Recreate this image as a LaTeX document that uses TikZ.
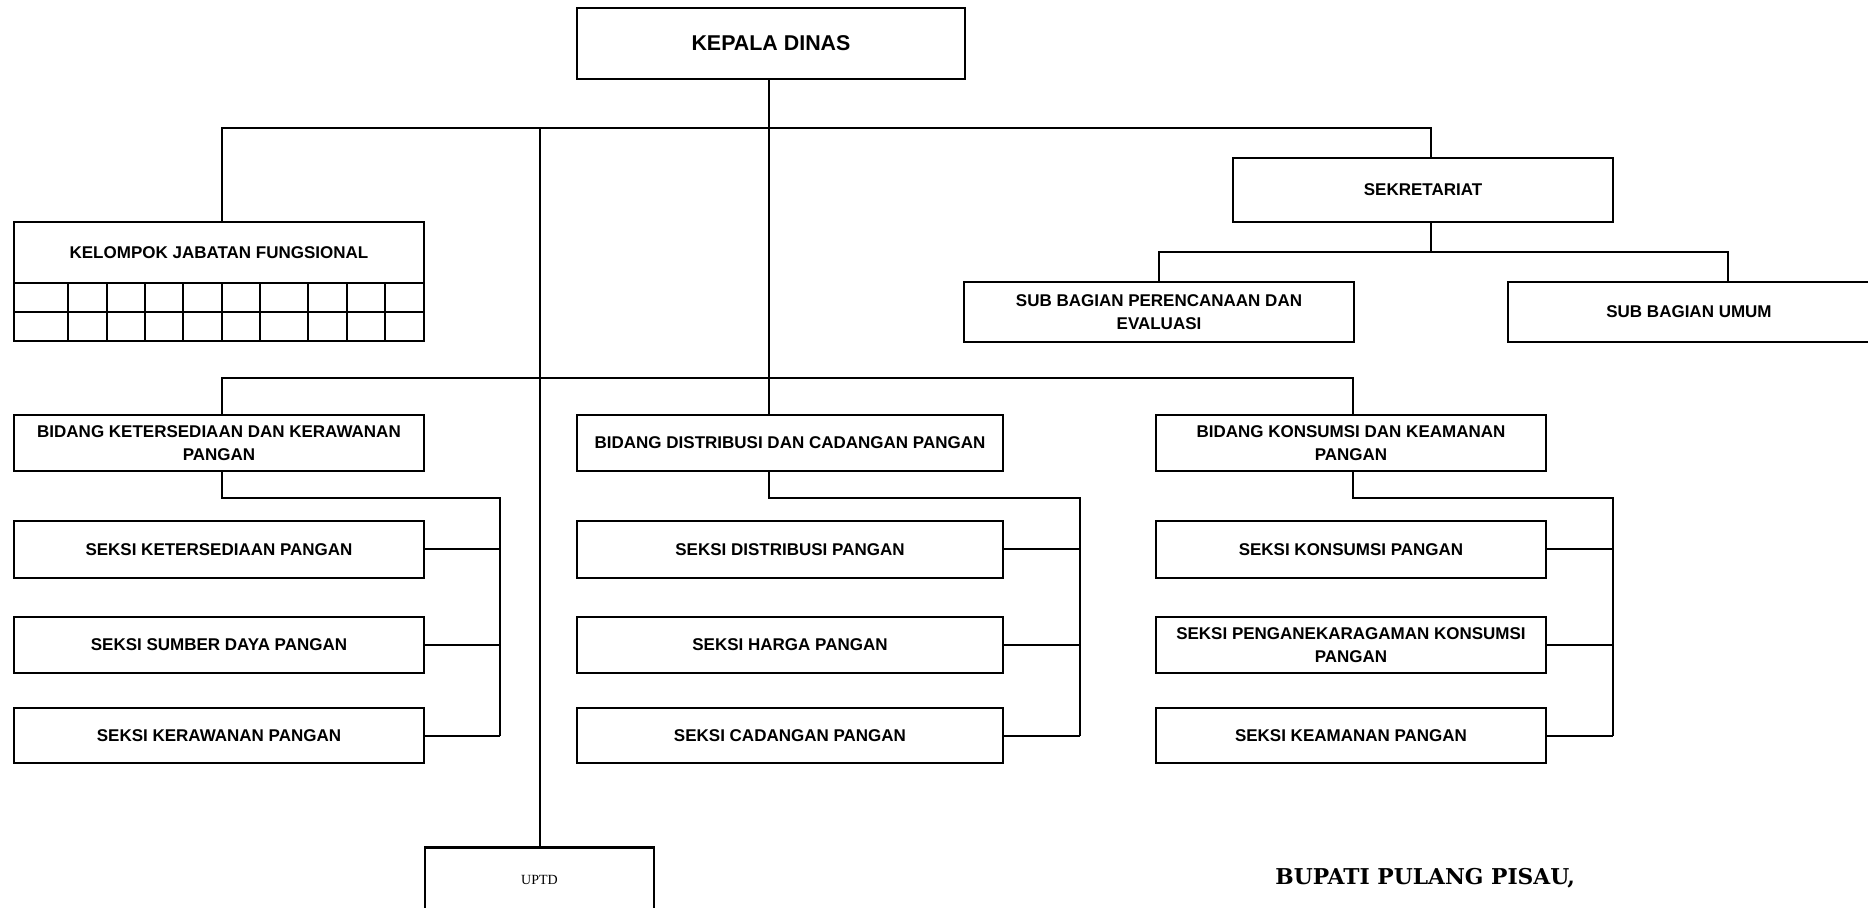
\documentclass[tikz,border=0pt]{standalone}
\usepackage{fontspec}
\setmainfont{Liberation Sans}
\newfontfamily\bupfont{DejaVu Serif}
\newfontfamily\uptdfont{Liberation Serif}
\begin{document}
\begin{tikzpicture}[x=0.5pt,y=-0.5pt,
  box/.style={draw, line width=1.1pt, inner sep=0pt, align=center,
    font=\bfseries\fontsize{8.5}{11.5}\selectfont},
  conn/.style={line width=1pt}]
\useasboundingbox (0,0) rectangle (1868,908);
% named x / y references
\coordinate (xA) at (222,0);
\coordinate (xM) at (769,0);
\coordinate (xC) at (1353,0);
\coordinate (xS) at (1431,0);
\coordinate (xU) at (1728,0);
\coordinate (yTop) at (0,128);
\coordinate (yMid) at (0,378);
\coordinate (ySub) at (0,252);
\coordinate (yBr) at (0,498);
\coordinate (br1) at (500,0);
\coordinate (br2) at (1080,0);
\coordinate (br3) at (1613,0);
% boxes
\node[box, minimum width=194pt, minimum height=35.5pt, font=\bfseries\fontsize{10.7}{13}\selectfont] (kd) at (771,43.5) {KEPALA DINAS};
\node[box, minimum width=205pt, minimum height=30.5pt] (kjf) at (219,252.5) {KELOMPOK JABATAN FUNGSIONAL};
\node[box, minimum width=190pt, minimum height=32pt] (sek) at (1423,190) {SEKRETARIAT};
\node[box, minimum width=195pt, minimum height=30pt] (sbpe) at (1159,312) {SUB BAGIAN PERENCANAAN DAN\\EVALUASI};
\node[box, minimum width=181pt, minimum height=30pt] (sbu) at (1689,312) {SUB BAGIAN UMUM};
\node[box, minimum width=205pt, minimum height=28pt] (b1) at (219,443) {BIDANG KETERSEDIAAN DAN KERAWANAN\\PANGAN};
\node[box, minimum width=213pt, minimum height=28pt] (b2) at (790,443) {BIDANG DISTRIBUSI DAN CADANGAN PANGAN};
\node[box, minimum width=195pt, minimum height=28pt] (b3) at (1351,443) {BIDANG KONSUMSI DAN KEAMANAN\\PANGAN};
\node[box, minimum width=205pt, minimum height=28.5pt] (s11) at (219,549.5) {SEKSI KETERSEDIAAN PANGAN};
\node[box, minimum width=205pt, minimum height=28pt] (s12) at (219,645) {SEKSI SUMBER DAYA PANGAN};
\node[box, minimum width=205pt, minimum height=27.5pt] (s13) at (219,735.5) {SEKSI KERAWANAN PANGAN};
\node[box, minimum width=213pt, minimum height=28.5pt] (s21) at (790,549.5) {SEKSI DISTRIBUSI PANGAN};
\node[box, minimum width=213pt, minimum height=28pt] (s22) at (790,645) {SEKSI HARGA PANGAN};
\node[box, minimum width=213pt, minimum height=27.5pt] (s23) at (790,735.5) {SEKSI CADANGAN PANGAN};
\node[box, minimum width=195pt, minimum height=28.5pt] (s31) at (1351,549.5) {SEKSI KONSUMSI PANGAN};
\node[box, minimum width=195pt, minimum height=28pt] (s32) at (1351,645) {SEKSI PENGANEKARAGAMAN KONSUMSI\\PANGAN};
\node[box, minimum width=195pt, minimum height=27.5pt] (s33) at (1351,735.5) {SEKSI KEAMANAN PANGAN};
\node[box, minimum width=114.5pt, minimum height=32.5pt, font=\uptdfont\fontsize{7}{8}\selectfont] (uptd) at (539.5,880) {UPTD};
\node[anchor=west, inner sep=0pt, font=\bupfont\bfseries\fontsize{10.9}{13}\selectfont] (bup) at (1275,878) {BUPATI PULANG PISAU,};
% KJF grid
\draw[line width=1.1pt] (14,283) rectangle (424,341);
\draw[line width=1.1pt] (14,312) -- (424,312);
\foreach \gx in {68,107,145,183,222,260,308,347,385}
  \draw[line width=1.1pt] (\gx,283) -- (\gx,341);
% connectors
\draw[conn] (kd.south -| xM) -- (b2.north -| xM);
\draw[conn] (kjf.north -| xA) -- (xA |- yTop) -- (xS |- yTop) -- (sek.north -| xS);
\draw[conn] (uptd.north) -- (uptd.north |- yTop);
\draw[conn] (b1.north -| xA) -- (xA |- yMid) -- (xC |- yMid) -- (b3.north -| xC);
\draw[conn] (sek.south -| xS) -- (xS |- ySub);
\draw[conn] (sbpe.north) -- (sbpe.north |- ySub) -- (xU |- ySub) -- (sbu.north -| xU);
% bracket column 1
\draw[conn] (b1.south -| xA) -- (xA |- yBr) -- (br1 |- yBr) -- (br1 |- s13.east);
\draw[conn] (s11.east) -- (s11.east -| br1);
\draw[conn] (s12.east) -- (s12.east -| br1);
\draw[conn] (s13.east) -- (s13.east -| br1);
% bracket column 2
\draw[conn] (b2.south -| xM) -- (xM |- yBr) -- (br2 |- yBr) -- (br2 |- s23.east);
\draw[conn] (s21.east) -- (s21.east -| br2);
\draw[conn] (s22.east) -- (s22.east -| br2);
\draw[conn] (s23.east) -- (s23.east -| br2);
% bracket column 3
\draw[conn] (b3.south -| xC) -- (xC |- yBr) -- (br3 |- yBr) -- (br3 |- s33.east);
\draw[conn] (s31.east) -- (s31.east -| br3);
\draw[conn] (s32.east) -- (s32.east -| br3);
\draw[conn] (s33.east) -- (s33.east -| br3);
\end{tikzpicture}
\end{document}
